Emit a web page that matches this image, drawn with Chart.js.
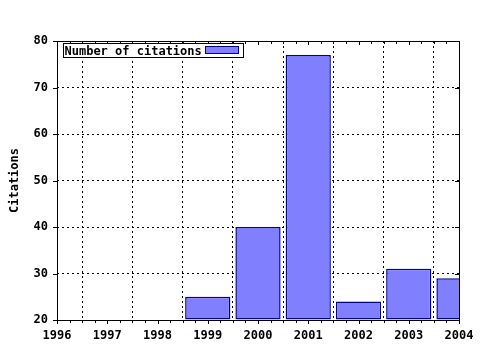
<!DOCTYPE html>
<html>
<head>
<meta charset="utf-8">
<script src="https://cdn.jsdelivr.net/npm/chart.js@4"></script>
<style>
  body { margin: 0; background: #fff; }
  canvas { display: block; }
</style>
</head>
<body>
<canvas id="chart" width="480" height="350"></canvas>
<script>
// Data
const years = [1999, 2000, 2001, 2002, 2003, 2004];
const citations = [25, 40, 77, 24, 31, 29];
const xTicks = [1996, 1997, 1998, 1999, 2000, 2001, 2002, 2003, 2004];
const yTicks = [20, 30, 40, 50, 60, 70, 80];

const monoFont = { family: "'DejaVu Sans Mono', monospace", size: 12, weight: 'bold' };

// frame, small tick marks and the boxed legend
const framePlugin = {
    id: 'frame',
    afterDraw(chart) {
        const ctx = chart.ctx;
        const a = chart.chartArea;
        const xs = chart.scales.x;
        const ys = chart.scales.y;
        ctx.save();
        ctx.strokeStyle = '#000';
        ctx.lineWidth = 1;
        ctx.setLineDash([]);
        ctx.beginPath();
        // minor + major ticks on x (bottom outward, top inward)
        for (let v = xTicks[0]; v <= xTicks[xTicks.length - 1] + 0.001; v += 0.25) {
            const px = Math.round(xs.getPixelForValue(v)) + 0.5;
            const major = Math.abs(v - Math.round(v)) < 0.001;
            const len = major ? 4 : 3;
            ctx.moveTo(px, a.bottom);
            ctx.lineTo(px, a.bottom + len);
            ctx.moveTo(px, a.top);
            ctx.lineTo(px, a.top + len);
        }
        // ticks on y (left outward, right inward)
        yTicks.forEach(v => {
            const py = Math.round(ys.getPixelForValue(v)) + 0.5;
            ctx.moveTo(a.left - 4, py);
            ctx.lineTo(a.left, py);
            ctx.moveTo(a.right, py);
            ctx.lineTo(a.right - 4, py);
        });
        ctx.stroke();
        ctx.strokeRect(Math.round(a.left) + 0.5, Math.round(a.top) + 0.5,
            Math.round(a.right - a.left), Math.round(a.bottom - a.top));

        // legend
        const ds = chart.data.datasets[0];
        ctx.font = `${monoFont.weight} ${monoFont.size}px ${monoFont.family}`;
        const label = ds.label;
        const tw = ctx.measureText(label).width;
        const bx = Math.round(a.left) + 6.5;
        const by = Math.round(a.top) + 2.5;
        const bh = 14;
        const sw = 33;
        const bw = Math.round(tw + sw + 10);
        ctx.fillStyle = '#fff';
        ctx.fillRect(bx, by, bw, bh);
        ctx.strokeRect(bx, by, bw, bh);
        ctx.fillStyle = '#000';
        ctx.textBaseline = 'middle';
        ctx.textAlign = 'left';
        ctx.fillText(label, bx + 1, by + bh / 2 + 1);
        const sx = Math.round(bx + tw + 4) + 0.5;
        ctx.fillStyle = ds.backgroundColor;
        ctx.fillRect(sx, by + 3, sw, 7);
        ctx.strokeStyle = ds.borderColor;
        ctx.strokeRect(sx, by + 3, sw, 7);
        ctx.restore();
    }
};

new Chart(document.getElementById('chart').getContext('2d'), {
    type: 'bar',
    data: {
        datasets: [{
            label: 'Number of citations',
            data: years.map((y, i) => ({ x: y, y: citations[i] })),
            backgroundColor: '#8080ff',
            borderColor: '#000099',
            borderWidth: 1.5,
            borderSkipped: false,
            barPercentage: 0.9,
            categoryPercentage: 1,
            base: 20
        }]
    },
    options: {
        responsive: false,
        animation: false,
        devicePixelRatio: 1,
        layout: { padding: { top: 41, right: 21, left: 0, bottom: 0 } },
        plugins: {
            legend: { display: false },
            tooltip: { enabled: false }
        },
        scales: {
            x: {
                type: 'linear',
                min: 1996,
                max: 2004,
                offset: false,
                afterFit: s => { s.height = 30; s.paddingLeft = 0; s.paddingRight = 0; },
                afterBuildTicks: s => { s.ticks = xTicks.map(v => ({ value: v })); },
                ticks: {
                    color: '#000',
                    font: monoFont,
                    padding: 9,
                    maxRotation: 0,
                    autoSkip: false,
                    callback: v => String(v)
                },
                grid: { color: '#000', lineWidth: 1, drawTicks: false },
                border: { display: false, dash: [2, 3] }
            },
            y: {
                min: 20,
                max: 80,
                afterFit: s => { s.width = 57; s.paddingTop = 0; s.paddingBottom = 0; },
                afterBuildTicks: s => { s.ticks = yTicks.map(v => ({ value: v })); },
                ticks: {
                    color: '#000',
                    font: monoFont,
                    padding: 9
                },
                title: {
                    display: true,
                    text: 'Citations',
                    color: '#000',
                    font: monoFont,
                    padding: { top: 8, bottom: 0 }
                },
                grid: { color: '#000', lineWidth: 1, drawTicks: false },
                border: { display: false, dash: [2, 3] }
            }
        }
    },
    plugins: [framePlugin]
});
</script>
</body>
</html>
